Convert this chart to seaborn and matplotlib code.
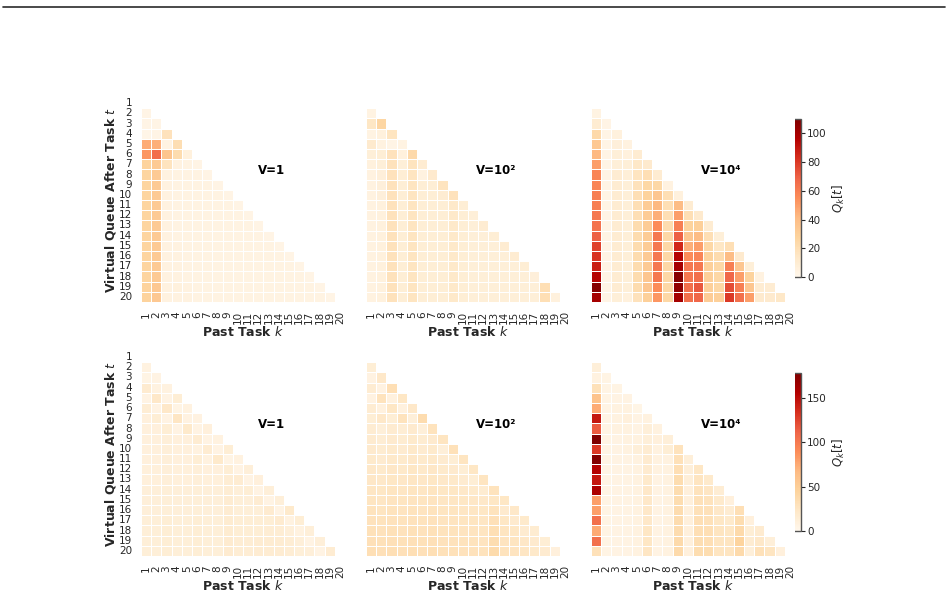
import numpy as np
import pandas as pd
import matplotlib
matplotlib.use("Agg")
import matplotlib.pyplot as plt
from matplotlib.lines import Line2D
import seaborn as sns

sns.set_style("white")
plt.rcParams['font.family'] = ['DejaVu Sans']

tasks = list(range(1, 21))
tick_labels = [str(i) for i in tasks]
panel_titles = ["V=1", "V=10\u00b2", "V=10\u2074"]
vmax_rows = [110, 178]

# rows t = 2..20, each holds values for k = 1..t-1
top_v1 = [
    [3],
    [3, 3],
    [2, 3, 18],
    [46, 45, 4, 21],
    [52, 66, 36, 22, 6],
    [28, 33, 17, 5, 4, 3],
    [27, 33, 5, 4, 4, 4, 3],
    [27, 33, 5, 4, 4, 4, 4, 3],
    [27, 33, 5, 4, 4, 4, 4, 4, 3],
    [27, 33, 5, 4, 4, 4, 4, 4, 4, 3],
    [27, 33, 5, 4, 4, 4, 4, 4, 4, 4, 3],
    [27, 33, 5, 4, 4, 4, 4, 4, 4, 4, 4, 3],
    [27, 33, 5, 4, 4, 4, 4, 4, 4, 4, 4, 4, 3],
    [27, 33, 5, 5, 4, 4, 4, 4, 4, 4, 4, 4, 4, 3],
    [27, 33, 5, 5, 4, 4, 4, 4, 4, 4, 4, 4, 4, 4, 3],
    [27, 33, 5, 5, 4, 4, 4, 4, 4, 4, 4, 4, 4, 4, 4, 3],
    [27, 33, 5, 5, 4, 4, 4, 4, 4, 4, 4, 4, 4, 4, 4, 4, 3],
    [28, 34, 5, 6, 5, 4, 4, 4, 4, 4, 4, 4, 4, 4, 4, 4, 4, 3],
    [28, 34, 5, 5, 5, 4, 4, 4, 4, 4, 4, 4, 4, 4, 4, 4, 4, 4, 3],
]

top_v2 = [
    [4],
    [15, 26],
    [4, 6, 16],
    [12, 5, 3, 4],
    [8, 9, 18, 6, 24],
    [6, 8, 18, 8, 17, 10],
    [5, 7, 18, 9, 16, 5, 12],
    [5, 7, 18, 9, 16, 9, 9, 17],
    [5, 7, 18, 9, 16, 9, 9, 10, 18],
    [5, 6, 18, 9, 16, 9, 9, 9, 13, 9],
    [5, 6, 18, 9, 16, 9, 9, 9, 13, 9, 8],
    [5, 6, 18, 9, 16, 9, 9, 9, 13, 9, 8, 10],
    [5, 6, 18, 9, 16, 9, 9, 9, 13, 9, 8, 8, 9],
    [5, 6, 18, 9, 16, 9, 9, 9, 13, 9, 8, 8, 8, 10],
    [5, 6, 18, 9, 16, 9, 9, 9, 13, 9, 8, 8, 8, 8, 10],
    [5, 6, 18, 9, 16, 9, 9, 9, 13, 9, 8, 8, 8, 8, 8, 9],
    [5, 6, 18, 9, 16, 9, 9, 9, 13, 9, 8, 8, 8, 8, 8, 8, 7],
    [5, 6, 18, 9, 16, 9, 9, 9, 13, 9, 8, 8, 8, 8, 8, 8, 8, 20],
    [5, 6, 18, 9, 16, 9, 9, 9, 13, 9, 8, 8, 8, 8, 8, 8, 8, 20, 6],
]

top_v4 = [
    [4],
    [10, 3],
    [24, 3, 6],
    [34, 3, 7, 5],
    [42, 3, 8, 6, 10],
    [50, 3, 8, 8, 14, 12],
    [58, 3, 10, 8, 16, 20, 10],
    [58, 3, 10, 8, 18, 25, 25, 5],
    [60, 3, 10, 8, 20, 28, 35, 20, 6],
    [60, 3, 10, 8, 20, 32, 42, 20, 40, 10],
    [62, 3, 10, 8, 20, 32, 45, 20, 50, 20, 12],
    [64, 3, 10, 8, 22, 32, 55, 22, 60, 28, 30, 10],
    [70, 3, 10, 8, 22, 32, 62, 25, 70, 35, 40, 20, 8],
    [78, 3, 10, 8, 22, 32, 62, 25, 85, 45, 50, 25, 15, 20],
    [82, 3, 10, 8, 22, 33, 62, 25, 95, 55, 58, 28, 22, 40, 12],
    [88, 3, 10, 8, 22, 33, 62, 25, 100, 62, 62, 30, 25, 60, 35, 8],
    [95, 3, 10, 8, 22, 35, 62, 25, 108, 62, 65, 30, 25, 68, 50, 28, 5],
    [108, 3, 10, 8, 22, 35, 55, 25, 105, 65, 72, 30, 25, 75, 60, 35, 10, 10],
    [100, 3, 8, 6, 18, 30, 52, 25, 100, 65, 68, 32, 30, 80, 65, 50, 12, 12, 14],
]

bot_v1 = [
    [8],
    [5, 6],
    [18, 8, 8],
    [6, 22, 6, 14],
    [15, 6, 22, 5, 8],
    [10, 14, 6, 25, 7, 7],
    [10, 10, 14, 6, 20, 6, 10],
    [10, 10, 12, 10, 10, 16, 6, 8],
    [10, 10, 12, 10, 10, 8, 16, 6, 14],
    [10, 10, 12, 10, 10, 14, 8, 20, 5, 8],
    [11, 11, 12, 11, 11, 12, 10, 10, 14, 6, 12],
    [11, 11, 12, 11, 11, 12, 11, 11, 15, 16, 6, 10],
    [12, 12, 13, 12, 12, 13, 12, 12, 15, 12, 14, 6, 12],
    [12, 12, 13, 12, 12, 13, 12, 12, 16, 13, 12, 16, 6, 12],
    [12, 12, 13, 12, 12, 13, 12, 12, 16, 13, 13, 13, 18, 6, 20],
    [13, 13, 14, 13, 13, 14, 13, 13, 17, 14, 14, 14, 14, 18, 8, 14],
    [13, 13, 14, 13, 13, 14, 13, 13, 17, 14, 14, 14, 15, 15, 12, 8, 12],
    [13, 13, 14, 13, 13, 14, 13, 13, 18, 15, 15, 16, 16, 16, 15, 12, 6, 12],
    [13, 13, 14, 13, 13, 14, 13, 13, 18, 15, 15, 16, 16, 16, 15, 13, 12, 6, 16],
]

bot_v2 = [
    [14],
    [7, 22],
    [16, 7, 32],
    [7, 28, 9, 24],
    [16, 9, 24, 9, 22],
    [14, 22, 14, 28, 12, 36],
    [16, 12, 18, 15, 19, 12, 28],
    [18, 15, 19, 17, 20, 17, 19, 26],
    [19, 17, 20, 18, 21, 18, 20, 12, 30],
    [20, 18, 21, 20, 22, 20, 21, 18, 14, 26],
    [22, 20, 23, 21, 24, 21, 23, 20, 19, 14, 24],
    [23, 22, 24, 23, 25, 23, 24, 22, 21, 18, 14, 26],
    [25, 24, 26, 25, 26, 25, 26, 24, 24, 22, 20, 17, 28],
    [26, 25, 27, 26, 27, 26, 27, 25, 25, 24, 23, 22, 24, 24],
    [28, 26, 28, 27, 28, 27, 28, 26, 26, 25, 25, 24, 28, 19, 22],
    [29, 28, 29, 28, 29, 28, 29, 27, 27, 26, 26, 25, 31, 24, 19, 20],
    [30, 29, 30, 29, 30, 29, 30, 28, 28, 27, 27, 26, 33, 26, 24, 18, 17],
    [31, 30, 31, 30, 31, 30, 31, 29, 29, 28, 28, 27, 35, 27, 26, 23, 19, 14],
    [32, 31, 32, 31, 32, 31, 32, 30, 30, 29, 29, 28, 37, 28, 27, 25, 21, 18, 10],
]

bot_v4 = [
    [12],
    [8, 5],
    [30, 5, 5],
    [60, 5, 6, 6],
    [75, 5, 8, 8, 4],
    [145, 5, 8, 10, 6, 8],
    [115, 5, 8, 8, 6, 12, 8],
    [178, 5, 6, 8, 8, 12, 10, 12],
    [130, 5, 6, 8, 12, 16, 8, 14, 28],
    [176, 5, 6, 6, 8, 18, 8, 8, 30, 12],
    [155, 5, 6, 6, 8, 18, 8, 8, 32, 12, 24],
    [145, 5, 6, 6, 8, 20, 6, 8, 35, 12, 26, 20],
    [158, 5, 6, 6, 8, 22, 6, 8, 35, 10, 28, 25, 15],
    [80, 5, 6, 6, 8, 22, 6, 8, 35, 10, 30, 28, 20, 10],
    [80, 5, 6, 6, 8, 22, 6, 8, 36, 10, 30, 30, 22, 16, 32],
    [105, 5, 6, 6, 8, 22, 6, 8, 36, 10, 32, 30, 24, 20, 35, 10],
    [75, 5, 6, 6, 8, 24, 6, 8, 36, 10, 32, 32, 26, 24, 38, 14, 18],
    [105, 5, 6, 6, 8, 24, 6, 8, 38, 10, 34, 32, 26, 26, 45, 16, 22, 12],
    [30, 5, 6, 6, 8, 25, 6, 8, 38, 10, 35, 35, 26, 26, 38, 12, 30, 26, 10],
]

panels = [[top_v1, top_v2, top_v4], [bot_v1, bot_v2, bot_v4]]


def to_frame(rows):
    mat = np.full((20, 20), np.nan)
    for i, r in enumerate(rows):
        t = i + 2
        mat[t - 1, :len(r)] = r
    return pd.DataFrame(mat, index=tasks, columns=tasks)


W, H = 948, 597
fig = plt.figure(figsize=(W / 100, H / 100), dpi=100)

# top rule
fig.add_artist(Line2D([3 / W, 945 / W], [1 - 7 / H, 1 - 7 / H],
                      color="#2b2b2b", lw=1.2, transform=fig.transFigure))

lefts = [141, 366, 591]
tops = [98, 352]
size = 204
cbar_boxes = [(787, 119, 14, 158), (787, 373, 14, 158)]
text_c = "#262626"

for r in range(2):
    vmax = vmax_rows[r]
    cx, cy, cw, ch = cbar_boxes[r]
    cax = fig.add_axes([cx / W, 1 - (cy + ch) / H, cw / W, ch / H])
    for c in range(3):
        ax = fig.add_axes([lefts[c] / W, 1 - (tops[r] + size) / H, size / W, size / H])
        df = to_frame(panels[r][c])
        sns.heatmap(df, mask=df.isna(), cmap="OrRd", vmin=0, vmax=vmax,
                    linewidths=0.5, linecolor="white",
                    xticklabels=tick_labels,
                    yticklabels=tick_labels if c == 0 else False,
                    cbar=(c == 2), cbar_ax=cax if c == 2 else None, ax=ax)
        ax.tick_params(axis="both", length=0, pad=6.5, labelsize=7.5, colors=text_c)
        ax.set_xticklabels(tick_labels, rotation=90)
        if c == 0:
            ax.set_yticklabels(tick_labels, rotation=0)
            ax.set_ylabel("Virtual Queue After Task $t$", fontsize=9,
                          fontweight="bold", color=text_c, labelpad=0.5)
        else:
            ax.set_ylabel("")
        ax.set_xlabel("Past Task $k$", fontsize=9, fontweight="bold",
                      color=text_c, labelpad=0.5)
        ax.text(0.64, 0.645, panel_titles[c], transform=ax.transAxes,
                ha="center", va="center", fontsize=8.5, fontweight="bold",
                color="black")
        if c == 2:
            cb = ax.collections[0].colorbar
            cb.outline.set_linewidth(1.0)
            cb.outline.set_edgecolor("#555555")
            cax.tick_params(length=3, width=0.8, labelsize=7.5, pad=1.5,
                            colors=text_c, direction="out", right=True)
            cb.set_label("$Q_k[t]$", fontsize=8.5, color=text_c, labelpad=3)

fig.savefig("out.png", dpi=100)
